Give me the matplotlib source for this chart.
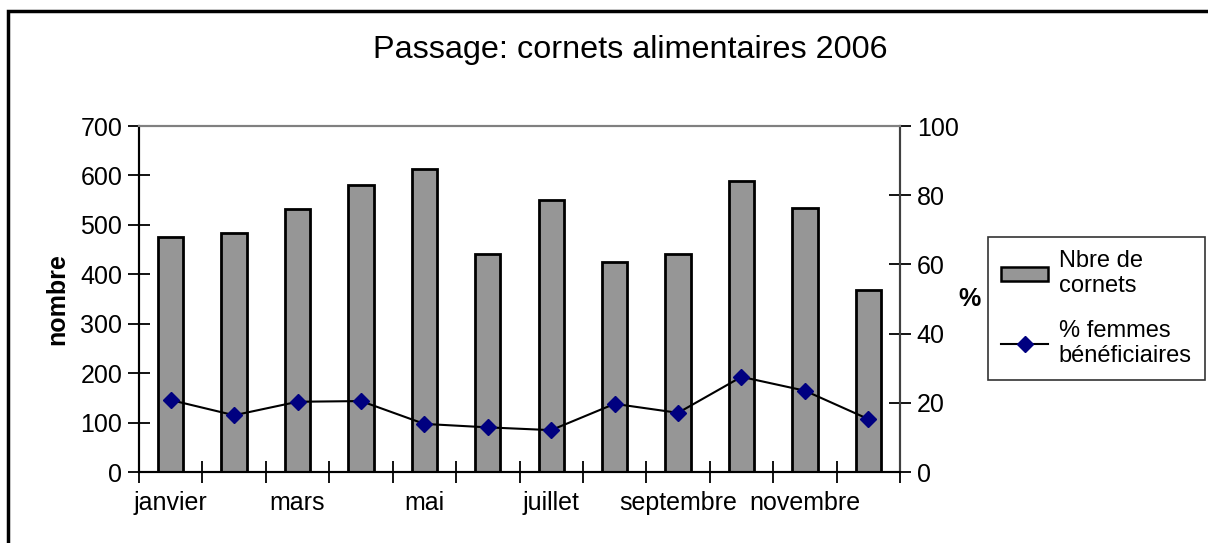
import matplotlib.pyplot as plt
import numpy as np
from matplotlib.patches import Rectangle
from matplotlib.lines import Line2D

plt.rcParams['font.family'] = ['Liberation Sans', 'DejaVu Sans']

# Data
months = ['janvier', 'février', 'mars', 'avril', 'mai', 'juin', 'juillet',
          'août', 'septembre', 'octobre', 'novembre', 'décembre']
cornets = [476, 484, 532, 581, 614, 442, 550, 424, 442, 589, 534, 369]
pct_femmes = [20.8, 16.4, 20.3, 20.5, 13.9, 12.9, 12.1, 19.7, 17.1, 27.5, 23.5, 15.3]
left_ticks = [0, 100, 200, 300, 400, 500, 600, 700]
right_ticks = [0, 20, 40, 60, 80, 100]

fig = plt.figure(figsize=(12.08, 5.43), dpi=100)
ax = fig.add_axes([139 / 1208, 71 / 543, 761 / 1208, 346 / 543])
ax2 = ax.twinx()

x = np.arange(len(months))
ax.bar(x, cornets, width=0.4, color='#969696', edgecolor='black', linewidth=2,
       zorder=2, label='Nbre de\ncornets')
ax2.plot(x, pct_femmes, color='black', linewidth=1.5, marker='D', markersize=8,
         markerfacecolor='#000080', markeredgecolor='#000080',
         label='% femmes\nbénéficiaires')

ax.set_xlim(-0.5, len(months) - 0.5)
ax.set_ylim(0, 700)
ax2.set_ylim(0, 100)
ax.set_yticks(left_ticks)
ax2.set_yticks(right_ticks)

# show every other month label, tick marks at category boundaries
ax.set_xticks(x[::2])
ax.set_xticklabels(months[::2])
ax.set_xticks(np.arange(-0.5, len(months) + 0.5, 1), minor=True)
ax.tick_params(axis='x', which='major', length=0, labelsize=18, pad=14)
ax.tick_params(axis='x', which='minor', direction='inout', length=16, width=1.3)
ax.tick_params(axis='y', direction='inout', length=16, width=1.3, labelsize=18, pad=4)
ax2.tick_params(axis='y', direction='inout', length=16, width=1.3, labelsize=18, pad=4)

for a in (ax, ax2):
    a.spines['left'].set_color('black')
    a.spines['bottom'].set_color('black')
    a.spines['right'].set_color('#404040')
    a.spines['top'].set_color('#808080')
    for s in a.spines.values():
        s.set_linewidth(1.5)

ax.set_ylabel('nombre', fontsize=18, fontweight='bold', labelpad=8)
ax2.set_ylabel('%', fontsize=18, fontweight='bold', rotation=0, labelpad=8,
               va='center')

fig.text(630 / 1208, 1 - 50 / 543, 'Passage: cornets alimentaires 2006',
         fontsize=23.3, ha='center', va='center')

handles = [Rectangle((0, 0), 1, 1, facecolor='#969696', edgecolor='black', linewidth=1.8),
           Line2D([], [], color='black', linewidth=1.5, marker='D', markersize=8,
                  markerfacecolor='#000080', markeredgecolor='#000080')]
labels = ['Nbre de\ncornets', '% femmes\nbénéficiaires']
leg = fig.legend(handles, labels, loc='upper left',
                 bbox_to_anchor=(988 / 1208, 1 - 237 / 543),
                 fontsize=17, frameon=True, fancybox=False, borderpad=0.55,
                 handlelength=2.0, handleheight=0.5, handletextpad=0.45,
                 labelspacing=0.95, borderaxespad=0)
leg.get_frame().set_edgecolor('black')
leg.get_frame().set_linewidth(1.2)

# outer chart border (left and top edges visible)
fig.patches.append(Rectangle((8 / 1208, -0.1), 1.2, 1 - 11 / 543 + 0.1,
                             transform=fig.transFigure, fill=False,
                             edgecolor='black', linewidth=2.5))

plt.savefig('out.png', dpi=100, facecolor='white')
